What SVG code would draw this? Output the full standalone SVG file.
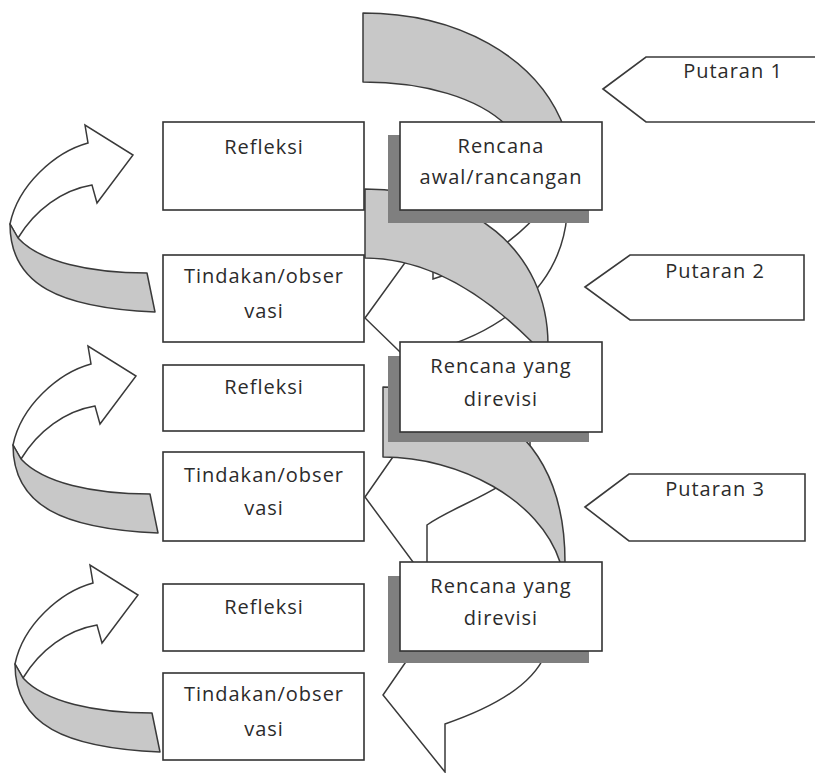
<svg xmlns="http://www.w3.org/2000/svg" xmlns:xlink="http://www.w3.org/1999/xlink" width="815" height="773" viewBox="0 0 815 773">
<style>
.box{fill:#ffffff;stroke:#333333;stroke-width:1.6}
.shadow{fill:#7f7f7f}
.band{fill:#c8c8c8;stroke:#3a3a3a;stroke-width:1.5;stroke-linejoin:round}
.front{fill:#ffffff;stroke:#3a3a3a;stroke-width:1.5;stroke-linejoin:miter}
.tag{fill:#ffffff;stroke:#3a3a3a;stroke-width:1.6}
.lbl{font-family:"Open Sans","Liberation Sans",sans-serif;font-size:20px;fill:#2b2b2b;text-anchor:middle;letter-spacing:1px}
</style>
<defs>
<g id="loopArrow">
<path class="front" d="M88,143 C55,152 18,185 10,224 L18,238 C35,210 62,190 92,185 L97,203 L133,155 L85,125 Z"/>
<path class="band" d="M10,224 C10,285 60,308 155,312 L147,273 C90,273 40,262 18,238 Z"/>
</g>
</defs>
<rect x="0" y="0" width="815" height="773" fill="#ffffff"/>
<g id="connectors">
<use xlink:href="#loopArrow" href="#loopArrow"/>
<use xlink:href="#loopArrow" href="#loopArrow" transform="translate(3,221)"/>
<use xlink:href="#loopArrow" href="#loopArrow" transform="translate(5,440)"/>
<path class="band" d="M363,13 C455,13 538,55 565,130 L565,160 L515,160 L506,125 C478,98 425,82 363,82 Z"/>
<path class="front" d="M433,279 L433,224 L365,318 L433,384 L433,350 C490,335 560,295 567,215 L567,175 L545,175 L545,205 C515,245 470,268 433,279 Z"/>
<path class="band" d="M365,189 C470,189 548,250 548,345 L548,360 L532,360 L532,342 Q448,258 365,258 Z"/>
<path class="front" d="M427,452 L427,408 L365,497 L427,581 L427,525 C455,505 505,492 530,460 L530,432 L470,432 Z"/>
<path class="band" d="M383,387 C495,387 565,445 565,562 L565,580 L560,580 L560,562 C540,500 460,457 383,457 Z"/>
<path class="front" d="M445,640 L445,605 L383,695 L445,772 L445,724 C480,712 530,690 545,655 L545,630 L470,630 Z"/>
</g>
<g id="refleksi1"><rect class="box" x="163" y="122" width="201" height="88"/><text class="lbl" x="264" y="154">Refleksi</text></g>
<g id="tindakan1"><rect class="box" x="163" y="255" width="201" height="87"/><text class="lbl" x="264" y="283">Tindakan/obser</text><text class="lbl" x="264" y="318">vasi</text></g>
<g id="refleksi2"><rect class="box" x="163" y="365" width="201" height="66"/><text class="lbl" x="264" y="394">Refleksi</text></g>
<g id="tindakan2"><rect class="box" x="163" y="452" width="201" height="89"/><text class="lbl" x="264" y="482">Tindakan/obser</text><text class="lbl" x="264" y="515">vasi</text></g>
<g id="refleksi3"><rect class="box" x="163" y="584" width="201" height="67"/><text class="lbl" x="264" y="614">Refleksi</text></g>
<g id="tindakan3"><rect class="box" x="163" y="673" width="201" height="87"/><text class="lbl" x="264" y="701">Tindakan/obser</text><text class="lbl" x="264" y="736">vasi</text></g>
<g id="rencana1"><rect class="shadow" x="388" y="135" width="201" height="88"/><rect class="box" x="400" y="122" width="202" height="88"/><text class="lbl" x="501" y="153">Rencana</text><text class="lbl" x="501" y="184">awal/rancangan</text></g>
<g id="rencana2"><rect class="shadow" x="388" y="356" width="201" height="86"/><rect class="box" x="400" y="342" width="202" height="90"/><text class="lbl" x="501" y="373">Rencana yang</text><text class="lbl" x="501" y="406">direvisi</text></g>
<g id="rencana3"><rect class="shadow" x="388" y="576" width="201" height="87"/><rect class="box" x="400" y="562" width="202" height="89"/><text class="lbl" x="501" y="593">Rencana yang</text><text class="lbl" x="501" y="625">direvisi</text></g>
<g id="putaran1"><polygon class="tag" points="603,89 646,57 822,57 822,122 646,122"/><text class="lbl" x="733" y="78">Putaran 1</text></g>
<g id="putaran2"><polygon class="tag" points="585,287 630,255 804,255 804,320 630,320"/><text class="lbl" x="715" y="278">Putaran 2</text></g>
<g id="putaran3"><polygon class="tag" points="585,507 629,474 805,474 805,541 629,541"/><text class="lbl" x="715" y="496">Putaran 3</text></g>
</svg>
